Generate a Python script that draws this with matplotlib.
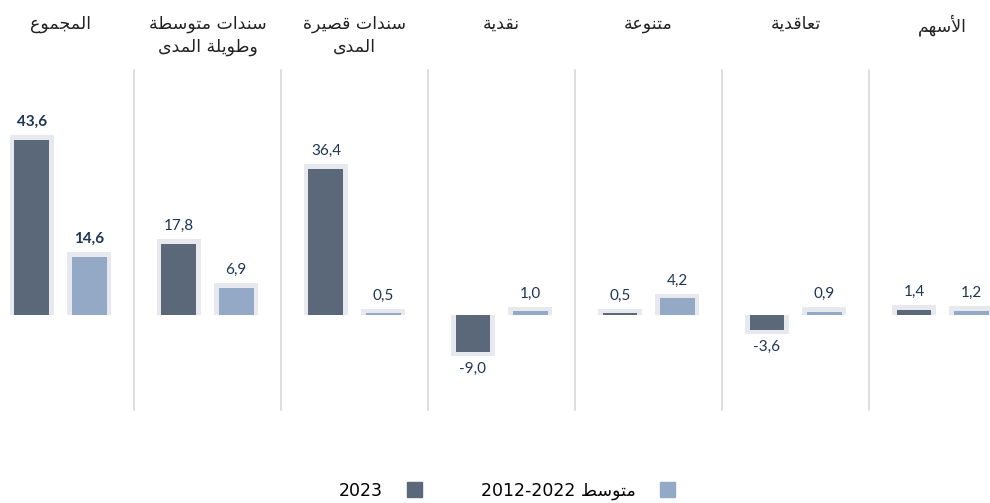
import matplotlib.pyplot as plt
from matplotlib.patches import Patch
import numpy as np

# categories left to right (the chart reads right to left)
categories = ["المجموع", "سندات متوسطة\nوطويلة المدى", "سندات قصيرة\nالمدى",
              "نقدية", "متنوعة", "تعاقدية", "الأسهم"]
values_2023 = [43.6, 17.8, 36.4, -9.0, 0.5, -3.6, 1.4]
values_avg = [14.6, 6.9, 0.5, 1.0, 4.2, 0.9, 1.2]
legend_2023 = "2023"
legend_avg = "متوسط 2012-2022"


## simple arabic shaping (matplotlib has no bidi / joining support)
FORMS = {  # isolated, final, initial, medial
    'ا': (0xFE8D, 0xFE8E, None, None), 'أ': (0xFE83, 0xFE84, None, None),
    'ة': (0xFE93, 0xFE94, None, None), 'ت': (0xFE95, 0xFE96, 0xFE97, 0xFE98),
    'ج': (0xFE9D, 0xFE9E, 0xFE9F, 0xFEA0), 'د': (0xFEA9, 0xFEAA, None, None),
    'ر': (0xFEAD, 0xFEAE, None, None), 'س': (0xFEB1, 0xFEB2, 0xFEB3, 0xFEB4),
    'ص': (0xFEB9, 0xFEBA, 0xFEBB, 0xFEBC), 'ط': (0xFEC1, 0xFEC2, 0xFEC3, 0xFEC4),
    'ع': (0xFEC9, 0xFECA, 0xFECB, 0xFECC), 'ق': (0xFED5, 0xFED6, 0xFED7, 0xFED8),
    'ل': (0xFEDD, 0xFEDE, 0xFEDF, 0xFEE0), 'م': (0xFEE1, 0xFEE2, 0xFEE3, 0xFEE4),
    'ن': (0xFEE5, 0xFEE6, 0xFEE7, 0xFEE8), 'ه': (0xFEE9, 0xFEEA, 0xFEEB, 0xFEEC),
    'و': (0xFEED, 0xFEEE, None, None), 'ى': (0xFEEF, 0xFEF0, None, None),
    'ي': (0xFEF1, 0xFEF2, 0xFEF3, 0xFEF4),
    'لا': (0xFEFB, 0xFEFC, None, None), 'لأ': (0xFEF7, 0xFEF8, None, None),
}


def shape_word(w):
    letters = []
    i = 0
    while i < len(w):
        if w[i] == 'ل' and i + 1 < len(w) and w[i + 1] in 'اأ':
            letters.append(w[i:i + 2])
            i += 2
        else:
            letters.append(w[i])
            i += 1
    out = []
    for k, ch in enumerate(letters):
        f = FORMS[ch]
        prev_joins = k > 0 and FORMS[letters[k - 1]][2] is not None
        next_joins = k < len(letters) - 1 and f[2] is not None
        if prev_joins and next_joins:
            c = f[3]
        elif next_joins:
            c = f[2]
        elif prev_joins:
            c = f[1]
        else:
            c = f[0]
        out.append(chr(c))
    return ''.join(out[::-1])


def ar(text):
    lines = []
    for line in text.split('\n'):
        toks = line.split(' ')
        toks = [shape_word(t) if t and t[0] in FORMS else t for t in toks]
        lines.append(' '.join(toks[::-1]))
    return '\n'.join(lines)


dark = '#5b687a'
light = '#94a9c6'
frame = '#e8e9ee'
txt = '#1f3556'
AR = ['DejaVu Sans']

fig = plt.figure(figsize=(9.9, 5.03), dpi=100)
ax = fig.add_axes([0, 0, 1, 1])
ax.set_xlim(-0.4116, 6.323)
ax.set_ylim(-46.5, 78.2)
ax.axis('off')

x = np.arange(len(categories))
off = 0.194
w = 0.238
pad = 1.1
for xs, vals, col in [(x - off, values_2023, dark), (x + off, values_avg, light)]:
    vals = np.array(vals)
    ax.bar(xs, vals + np.sign(vals) * pad, width=w + 0.06, color=frame, zorder=1)
    ax.bar(xs, vals, width=w, color=col, zorder=2)
    for xi, v, i in zip(xs, vals, range(len(vals))):
        lab = f"{v:.1f}".replace('.', ',')
        bold = 'bold' if i == 0 else 'normal'
        if v >= 0:
            ax.annotate(lab, (xi, v), xytext=(0, 7.5), textcoords='offset points',
                        ha='center', va='bottom', fontsize=11, color=txt,
                        family='Lato', fontweight=bold)
        else:
            ax.annotate(lab, (xi, v), xytext=(0, -7), textcoords='offset points',
                        ha='center', va='top', fontsize=11, color=txt,
                        family='Lato', fontweight=bold)

for i in range(len(categories) - 1):
    ax.axvline(i + 0.5, ymin=0.185, ymax=0.861, color='#d9d9d9', lw=1.2, zorder=0)

for i, c in enumerate(categories):
    ax.text(i, 74.6, ar(c), ha='center', va='top', fontsize=12.5, color='#222222',
            family=AR, linespacing=1.35)

handles = [Patch(color=dark), Patch(color=light)]
fig.legend(handles, [legend_2023, ar(legend_avg)], ncol=2, markerfirst=False,
           loc='lower center', bbox_to_anchor=(0.512, -0.025), frameon=False,
           handlelength=0.85, handleheight=0.9, columnspacing=3.4,
           handletextpad=1.4, prop={'family': AR, 'size': 12.5})

fig.savefig('out.png', dpi=100)
